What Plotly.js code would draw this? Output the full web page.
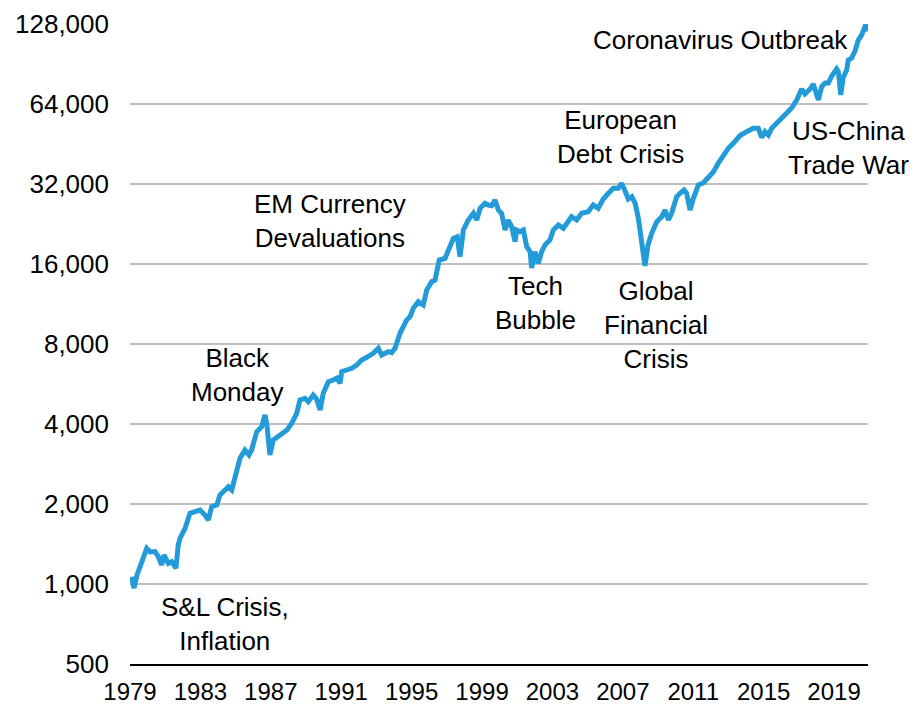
<!DOCTYPE html>
<html>
<head>
<meta charset="utf-8">
<script src="https://cdn.plot.ly/plotly-3.0.1.min.js"></script>
<style>html,body{margin:0;padding:0;background:#fff}#chart{width:917px;height:707px}</style>
</head>
<body>
<div id="chart"></div>
<script>
// Decimal years as read against the chart's own axis
const years = [1979.06,1979.23,1979.40,1979.57,1979.77,1979.95,1980.14,1980.42,1980.59,1980.80,1980.93,1981.18,1981.37,1981.61,1981.74,1981.84,1982.13,1982.41,1982.69,1982.98,1983.26,1983.45,1983.64,1983.93,1984.11,1984.40,1984.59,1984.78,1984.97,1985.25,1985.53,1985.76,1985.91,1986.20,1986.48,1986.67,1986.78,1986.95,1987.14,1987.41,1987.69,1987.92,1988.19,1988.47,1988.66,1988.94,1989.13,1989.41,1989.60,1989.80,1989.98,1990.27,1990.55,1990.76,1990.93,1991.03,1991.31,1991.60,1991.88,1992.16,1992.45,1992.82,1993.11,1993.30,1993.49,1993.68,1993.87,1994.06,1994.34,1994.72,1994.91,1995.10,1995.38,1995.66,1995.86,1996.14,1996.33,1996.57,1996.90,1997.18,1997.37,1997.59,1997.75,1997.94,1998.22,1998.51,1998.70,1998.89,1999.17,1999.36,1999.55,1999.74,1999.93,2000.11,2000.31,2000.49,2000.68,2000.88,2000.97,2001.16,2001.35,2001.54,2001.73,2001.82,2002.01,2002.20,2002.39,2002.58,2002.86,2003.05,2003.34,2003.62,2003.90,2004.09,2004.38,2004.66,2005.03,2005.32,2005.60,2005.89,2006.18,2006.46,2006.74,2006.93,2007.13,2007.31,2007.51,2007.70,2007.88,2008.07,2008.26,2008.43,2008.64,2008.93,2009.21,2009.40,2009.59,2009.77,2010.06,2010.25,2010.48,2010.62,2010.82,2011.01,2011.29,2011.57,2011.86,2012.14,2012.43,2012.71,2012.99,2013.28,2013.66,2014.04,2014.41,2014.70,2014.89,2015.08,2015.27,2015.46,2015.74,2016.02,2016.31,2016.59,2016.88,2017.16,2017.35,2017.64,2017.82,2018.11,2018.30,2018.49,2018.68,2018.87,2019.15,2019.25,2019.38,2019.52,2019.72,2019.81,2020.00,2020.19,2020.38,2020.57,2020.79,2020.93];
const values = [1063,966,1081,1162,1231,1362,1320,1324,1274,1179,1286,1196,1213,1146,1402,1486,1620,1845,1871,1898,1818,1741,1954,1983,2162,2258,2323,2258,2571,2971,3193,3058,3193,3742,3907,4324,3966,3058,3482,3605,3732,3797,4025,4389,4925,4997,4853,5142,4967,4516,5219,5771,5856,5958,5691,6293,6386,6480,6670,6964,7129,7380,7708,7272,7380,7483,7420,7727,8778,9849,10134,10899,11544,11217,12773,13726,13929,16564,16806,18866,19985,20265,17041,21480,23425,24827,23425,25921,27073,26675,26500,27858,25544,24827,21480,23425,22101,19413,21480,21171,21480,18589,17804,15455,17804,16100,17804,18866,19698,21480,22435,21797,23087,24100,23425,24827,25175,26675,25921,28100,29520,30824,30824,32200,30118,28100,28660,27073,23834,19280,15730,18866,20880,23087,24100,25544,23425,24827,28660,29520,30380,29590,25544,28270,31720,32280,33710,35510,38380,40790,43600,45530,48710,50360,51840,51840,47870,50360,48920,51840,54140,56690,59710,61820,66260,72870,69800,72870,76110,66260,74470,76770,76770,81570,86680,84450,69190,80520,85930,93700,95340,101300,111430,116380,127000,120500];

const yTickVals = [500,1000,2000,4000,8000,16000,32000,64000,128000];
const yTickText = ['500','1,000','2,000','4,000','8,000','16,000','32,000','64,000','128,000'];
const xTickVals = [1979,1983,1987,1991,1995,1999,2003,2007,2011,2015,2019];
const xTickText = ['1979','1983','1987','1991','1995','1999','2003','2007','2011','2015','2019'];

const eventLabels = ['Coronavirus Outbreak','European<br>Debt Crisis','US-China<br>Trade War','EM Currency<br>Devaluations','Tech<br>Bubble','Global<br>Financial<br>Crisis','Black<br>Monday','S&amp;L Crisis,<br>Inflation'];
const eventX = [0.7995,0.664,0.974,0.271,0.550,0.713,0.146,0.129];
const eventY = [0.975,0.824,0.806,0.692,0.564,0.530,0.452,0.063];

const FONT = '"Liberation Sans", Arial, sans-serif';

const trace = {
  x: years, y: values, type: 'scatter', mode: 'lines',
  line: {color: '#229BD8', width: 5},
  hoverinfo: 'x+y'
};

const layout = {
  width: 917, height: 707,
  margin: {l: 130, r: 49, t: 24, b: 43, pad: 0},
  paper_bgcolor: '#ffffff', plot_bgcolor: '#ffffff',
  showlegend: false,
  font: {family: FONT, size: 26, color: '#000'},
  xaxis: {
    type: 'linear', range: [1979, 2020.93],
    tickmode: 'array', tickvals: xTickVals, ticktext: xTickText,
    showgrid: false, zeroline: false,
    showline: true, linecolor: '#000', linewidth: 2,
    ticks: '', ticklabelstandoff: 5,
    tickfont: {family: FONT, size: 24, color: '#000'}
  },
  yaxis: {
    type: 'log', range: [Math.log10(500), Math.log10(128000)],
    tickmode: 'array', tickvals: yTickVals, ticktext: yTickText,
    showgrid: true, gridcolor: '#BFBFBF', gridwidth: 2.5,
    zeroline: false, showline: false,
    ticks: '', ticklabelstandoff: 20,
    tickfont: {family: FONT, size: 26, color: '#000'}
  },
  annotations: eventLabels.map((t, i) => ({
    text: t, xref: 'paper', yref: 'paper', x: eventX[i], y: eventY[i],
    xanchor: 'center', yanchor: 'middle', align: 'center', showarrow: false,
    font: {family: FONT, size: 26, color: '#000'}
  }))
};

Plotly.newPlot('chart', [trace], layout, {displayModeBar: false, staticPlot: true});
</script>
</body>
</html>
